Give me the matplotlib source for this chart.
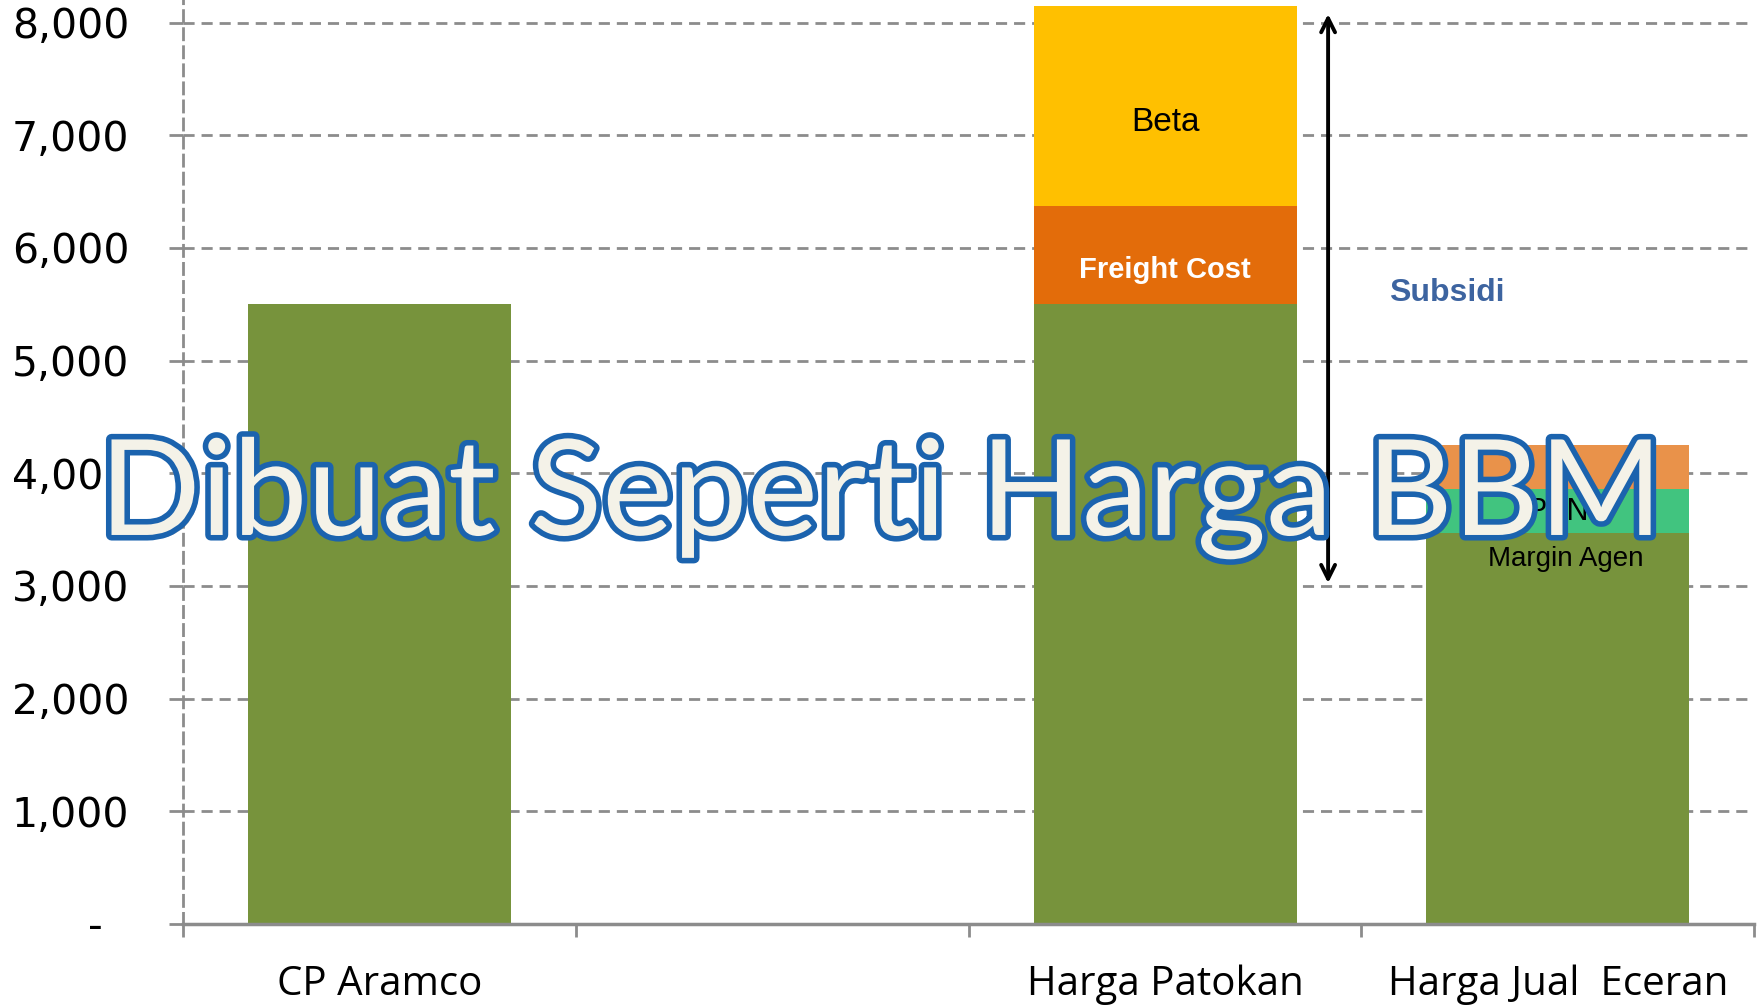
import matplotlib
matplotlib.use("Agg")
import matplotlib.pyplot as plt
import matplotlib.patheffects as pe
import numpy as np

categories = ["CP Aramco", "", "Harga Patokan", "Harga Jual  Eceran"]
base_price = [5500, 0, 5500, 3470]
freight_cost = [0, 0, 870, 0]
beta = [0, 0, 1780, 0]
ppn = [0, 0, 0, 390]
margin_agen = [0, 0, 0, 390]
y_ticks = [0, 1000, 2000, 3000, 4000, 5000, 6000, 7000, 8000]
y_labels = ["-  ", "1,000", "2,000", "3,000", "4,000", "5,000", "6,000", "7,000", "8,000"]
subsidi_range = [3000, 8100]

GREEN = "#77933C"
FREIGHT = "#E36C0A"
BETA = "#FFC000"
PPN = "#41C47F"
MARGIN = "#E9924A"
GRID = "#8C8C8C"
NARROW = ["Liberation Sans Narrow", "Liberation Sans", "DejaVu Sans"]

fig = plt.figure(figsize=(17.63, 10.06), dpi=100)
ax = fig.add_axes([0.104, 0.0816, 0.891, 0.9184])

x = np.arange(len(categories))
w = 0.67
b1 = np.array(base_price)
b2 = b1 + np.array(freight_cost)
b4 = b1 + np.array(ppn)
ax.bar(x, base_price, w, color=GREEN, zorder=2)
ax.bar(x, freight_cost, w, bottom=b1, color=FREIGHT, zorder=2)
ax.bar(x, beta, w, bottom=b2, color=BETA, zorder=2)
ax.bar(x, ppn, w, bottom=b1, color=PPN, zorder=2)
ax.bar(x, margin_agen, w, bottom=b4, color=MARGIN, zorder=2)

ax.set_xlim(-0.5, len(categories) - 0.5)
ax.set_ylim(0, 8200)

ax.set_yticks(y_ticks)
ax.set_yticklabels(y_labels, fontsize=29.5, family="DejaVu Sans")
ax.tick_params(axis="y", length=10, width=2, color=GRID, pad=29)
ax.yaxis.grid(True, linestyle=(0, (4, 2.5)), color=GRID, linewidth=2, zorder=1)

ax.set_xticks(x)
ax.set_xticklabels(categories, fontsize=29, family=["Open Sans", "DejaVu Sans"])
ax.tick_params(axis="x", which="major", length=0, pad=29)
ax.set_xticks(np.arange(-0.5, len(categories), 1.0), minor=True)
ax.tick_params(axis="x", which="minor", length=9, width=2, color=GRID, direction="out")

for s in ["top", "right"]:
    ax.spines[s].set_visible(False)
ax.spines["bottom"].set_color(GRID)
ax.spines["bottom"].set_linewidth(2.5)
ax.spines["bottom"].set_zorder(3)
ax.spines["left"].set_color(GRID)
ax.spines["left"].set_linewidth(2)
ax.spines["left"].set_linestyle((0, (4, 2.5)))

# segment labels
ax.text(2, 7110, "Beta", ha="center", va="center", fontsize=24, family=NARROW, color="black", zorder=4)
ax.text(2, 5800, "Freight Cost", ha="center", va="center", fontsize=21, family=NARROW,
        weight="bold", color="white", zorder=4)
ax.text(3, 3660, "PPN", ha="center", va="center", fontsize=22, family=NARROW, color="black", zorder=4)
ax.text(3.02, 3240, "Margin Agen", ha="center", va="center", fontsize=20, family=NARROW, color="black", zorder=4)
ax.text(2.716, 5600, "Subsidi", ha="center", va="center", fontsize=23, family=NARROW,
        weight="bold", color="#3D64A0", zorder=4)

ax.annotate("", xy=(2.415, subsidi_range[1]), xytext=(2.415, subsidi_range[0]),
            arrowprops=dict(arrowstyle="<->,head_length=1.0,head_width=0.5", color="black", lw=2.8),
            zorder=4)

# watermark overlay
fig.text(0.5, 0.505, "Dibuat Seperti Harga BBM", ha="center", va="center", fontsize=96,
         family=["Lato", "DejaVu Sans"], color="#F4F2E8", zorder=10,
         path_effects=[pe.SimplePatchShadow(offset=(3, -3), shadow_rgbFace="#555555", alpha=0.45),
                       pe.withStroke(linewidth=8, foreground="#1B63AE")])

fig.savefig("out.png", dpi=100)
